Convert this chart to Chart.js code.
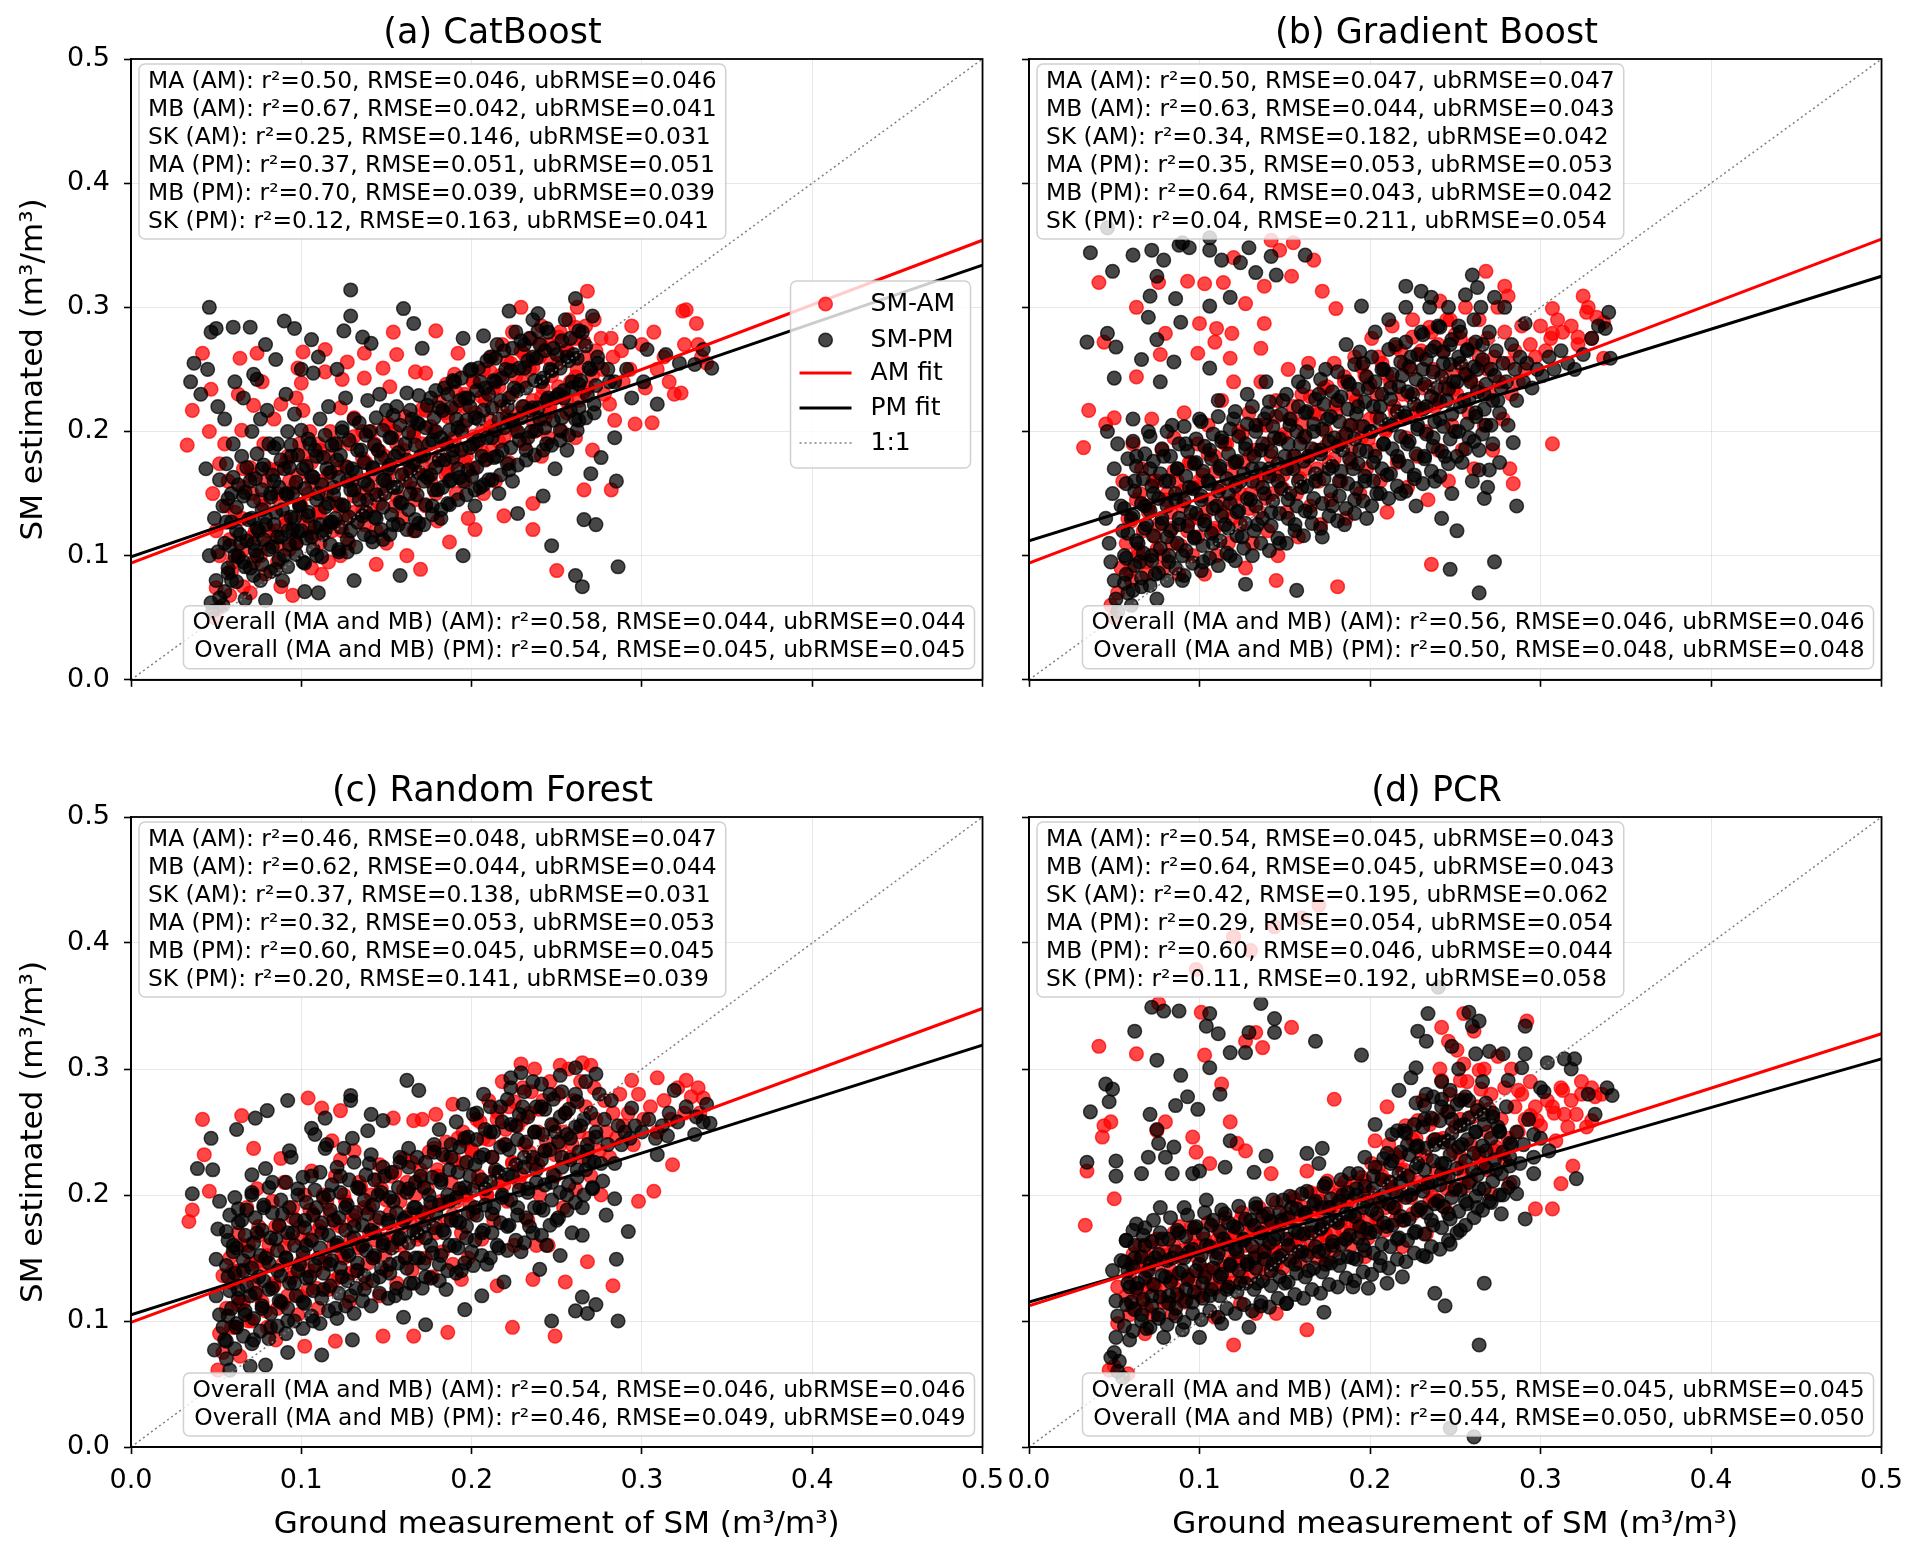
<!DOCTYPE html>
<html>
<head>
<meta charset="utf-8">
<title>SM estimated vs ground measurement</title>
<script src="https://cdn.jsdelivr.net/npm/chart.js@4.4.1/dist/chart.umd.min.js"></script>
<style>
  html, body { margin: 0; padding: 0; background: #fff; }
  #fig { position: relative; width: 1923px; height: 1559px; overflow: hidden; }
  #fig canvas { position: absolute; }
</style>
</head>
<body>
<div id="fig">
  <canvas id="pa" width="1015" height="710" style="left:0px;top:0px"></canvas>
  <canvas id="pb" width="925" height="710" style="left:989px;top:0px"></canvas>
  <canvas id="pc" width="1015" height="801" style="left:0px;top:758px"></canvas>
  <canvas id="pd" width="925" height="801" style="left:989px;top:758px"></canvas>
</div>
<script>
const FONT = '"DejaVu Sans", sans-serif';

// axis ticks and common lines
const tickLabels = ['0.0', '0.1', '0.2', '0.3', '0.4', '0.5'];
const fitX = [0, 0.5];
const oneToOne = [0, 0.5];
const legendLabels = ['SM-AM', 'SM-PM', 'AM fit', 'PM fit', '1:1'];

// scatter points, pairs of (ground, estimated) in thousandths of m3/m3
// (a) CatBoost
const catAM = [
  33,189, 36,217, 42,263, 47,234, 46,200, 48,150, 50,120, 52,100, 50,74, 52,58, 49,50,
  52,174, 55,190, 57,160, 58,113, 59,87, 58,68, 56,140,
  64,259, 65,201, 63,230, 66,170, 65,130, 63,100, 66,75,
  70,171, 72,221, 74,263, 71,150, 73,120, 72,95, 70,70,
  77,240, 78,190, 79,160, 78,140, 80,110, 79,85,
  84,210, 88,222, 86,170, 87,145, 85,120, 86,95, 88,75,
  92,180, 93,160, 91,130, 93,105,
  97,227, 98,251, 101,264, 100,239, 101,217, 99,190, 98,165, 100,140, 97,110, 95,68,
  105,200, 106,175, 104,150, 105,125, 106,90,
  110,190, 112,160, 110,135, 111,110, 112,85,
  114,266, 114,248, 117,200, 116,180, 115,150, 118,120, 116,95,
  123,219, 124,242, 127,256, 123,100, 121,170, 122,140, 124,120,
  131,211, 129,190, 130,160, 131,135, 128,110,
  137,263, 137,243, 136,200, 138,175, 136,150, 137,125,
  144,93, 143,190, 142,165, 141,140, 144,120,
  148,251, 150,205, 149,180, 147,150, 150,110,
  152,236, 154,280, 156,262, 155,200, 153,170, 155,140,
  160,185, 161,160, 159,130, 162,100,
  167,248, 166,200, 165,170, 167,145, 166,120,
  170,89, 173,247, 173,217, 171,190, 172,165, 173,140,
  179,281, 178,200, 177,175, 179,150, 180,128,
  185,238, 184,215, 186,190, 185,165, 187,111,
  190,246, 192,263, 191,220, 190,195, 189,175, 191,150,
  196,230, 195,205, 197,180, 196,160, 198,130,
  202,121, 201,240, 202,215, 203,190, 201,170,
  207,250, 208,225, 206,200, 209,178, 207,150,
  212,260, 213,235, 211,210, 212,185, 214,160,
  219,132, 218,270, 217,245, 218,220, 219,195,
  224,280, 223,255, 224,230, 225,205, 222,175,
  229,300, 229,265, 230,240, 228,215, 231,190,
  236,142, 236,121, 235,275, 234,250, 236,225, 237,200,
  241,285, 240,260, 242,235, 243,210, 241,180,
  246,270, 247,245, 246,220, 245,195,
  250,88, 252,280, 251,255, 252,230, 253,200,
  257,290, 256,265, 258,240, 256,215,
  262,300, 261,275, 262,250, 263,225, 261,195,
  266,153, 268,313, 267,285, 266,260, 268,235,
  271,185, 272,290, 273,265, 271,245,
  276,275, 277,250, 278,230,
  281,222, 282,153, 283,260, 284,209, 282,275,
  288,265, 289,240,
  294,285, 296,206, 293,250,
  300,270, 302,235,
  306,207, 307,280, 309,250,
  313,260, 316,240, 319,230,
  323,231, 324,297, 326,298, 325,270,
  332,287, 333,270, 335,260, 338,255
];
const catAMCore = [
  60,95, 61,135, 66,105, 66,155, 71,115, 71,165, 76,100, 76,145, 81,120, 81,170, 86,108, 86,150,
  91,125, 91,175, 96,112, 96,155, 101,130, 101,180, 106,118, 106,160, 111,135, 111,185, 116,124,
  116,166, 121,142, 121,190, 126,130, 126,172, 131,148, 131,196, 136,136, 136,178, 141,154, 141,200,
  146,142, 146,184, 151,160, 151,206, 156,148, 156,190, 161,166, 161,212, 166,154, 166,196, 171,172,
  171,218, 176,160, 176,204, 181,180, 181,224, 186,168, 186,212, 191,188, 191,232, 196,176, 196,220,
  201,196, 201,240, 206,184, 206,228, 211,204, 211,248, 216,192, 216,236, 221,212, 221,256, 226,200,
  226,244, 231,220, 231,262, 236,208, 236,252, 241,228, 241,270, 246,216, 246,258, 251,236, 251,276,
  256,224, 256,266, 261,244, 261,284, 266,232, 266,272
];
const catPM = [
  35,240, 37,255, 41,230, 46,300, 47,280, 45,250, 44,170, 46,100, 47,62,
  50,283, 51,220, 52,161, 49,130, 51,103, 50,80, 52,66, 48,55,
  55,210, 56,174, 54,140, 56,127, 55,110, 57,90, 55,71, 54,60,
  60,284, 61,240, 60,190, 59,150, 62,120, 61,100, 59,80,
  66,227, 65,180, 66,148, 64,110, 66,95, 67,65,
  70,284, 72,246, 71,200, 70,160, 71,130, 72,110, 70,90,
  74,242, 76,210, 77,170, 77,137, 75,120, 74,100, 76,80,
  79,270, 80,217, 81,190, 82,150, 79,125, 81,105, 79,64,
  85,258, 86,190, 84,160, 85,135, 86,115, 85,89,
  90,289, 91,230, 92,200, 90,170, 91,150, 92,120, 90,100, 89,80,
  96,283, 96,214, 94,180, 95,150, 96,130, 95,121, 97,110,
  100,250, 100,201, 101,170, 99,140, 100,120, 101,95, 102,71,
  106,274, 107,247, 105,190, 106,164, 104,135, 106,115,
  110,260, 111,210, 109,180, 110,150, 111,125, 109,100, 110,70,
  116,220, 115,170, 116,142, 114,120, 117,127,
  121,250, 120,190, 121,177, 119,155, 120,130, 122,105,
  125,281, 126,227, 124,200, 127,160, 125,140, 127,103,
  129,314, 129,293, 131,210, 130,170, 131,153, 129,120, 131,80,
  136,276, 139,225, 135,185, 137,160, 136,132,
  141,271, 140,200, 142,170, 139,145, 141,115,
  146,230, 145,185, 148,161, 144,130,
  150,217, 152,195, 151,170, 149,150, 148,113,
  156,220, 155,180, 156,155, 154,125,
  160,299, 162,231, 161,190, 164,169, 159,142, 158,84,
  166,287, 165,210, 166,175, 164,150, 167,120,
  171,267, 169,206, 170,180, 172,160, 169,126,
  176,227, 175,190, 176,165, 177,140,
  181,219, 179,200, 181,177, 180,153, 182,130,
  186,230, 185,190, 187,160, 186,142,
  190,240, 191,210, 189,185, 192,170,
  195,275, 196,227, 194,200, 195,160, 195,100,
  200,250, 199,220, 201,190, 200,164, 202,140,
  207,277, 205,240, 204,210, 206,180, 205,155,
  211,260, 210,230, 212,195, 210,161,
  215,270, 214,240, 216,210, 215,180, 216,150,
  222,297, 220,250, 221,220, 222,209, 221,174,
  226,280, 225,235, 227,200, 224,160, 227,134,
  231,270, 231,251, 230,220, 232,185,
  236,290, 236,260, 236,219, 235,200,
  239,295, 240,270, 241,240, 240,210, 242,148,
  245,280, 246,250, 245,227, 244,190, 247,108,
  250,262, 251,230, 252,201, 249,170,
  255,290, 256,260, 254,227, 256,185,
  261,307, 260,262, 259,240, 261,210, 261,84,
  265,280, 263,238, 263,209, 266,129, 265,75,
  271,293, 270,250, 272,222, 270,166,
  274,260, 276,179, 273,125,
  280,250, 281,240,
  284,240, 284,195, 285,160, 286,91,
  293,272, 291,250, 294,227,
  303,266, 301,240,
  314,262, 309,222,
  322,255,
  331,254, 336,266,
  341,251
];
const catPMCore = [
  57,86, 58,108, 59,127, 57,146, 60,163, 62,79, 63,99, 64,117, 62,139, 63,157,
  67,91, 68,112, 69,129, 67,151, 68,171, 72,84, 73,104, 74,122, 72,144, 73,162, 74,182,
  77,93, 78,113, 79,131, 77,153, 78,173, 82,87, 83,107, 84,125, 82,147, 83,165, 84,187,
  87,97, 88,115, 89,137, 87,155, 88,177, 92,91, 93,109, 94,131, 92,149, 93,171, 94,189,
  97,101, 98,119, 99,141, 97,159, 98,181, 102,94, 103,114, 104,132, 102,154, 103,172, 104,194,
  107,105, 108,123, 109,145, 107,163, 108,185, 112,99, 113,117, 114,139, 112,157, 113,179, 114,197,
  117,109, 118,127, 119,149, 117,167, 118,189, 122,103, 123,123, 124,141, 122,163, 123,181, 124,203,
  127,113, 128,131, 129,153, 127,171, 128,193, 132,107, 133,127, 134,145, 132,167, 133,185, 134,207,
  137,117, 138,135, 139,157, 137,175, 138,197, 142,111, 143,131, 144,149, 142,171, 143,189, 144,211,
  147,121, 148,139, 149,161, 147,179, 148,201, 152,117, 153,133, 154,155, 152,173, 153,195, 154,213,
  157,125, 158,143, 159,165, 157,183, 158,205, 162,121, 163,137, 164,159, 162,177, 163,199, 164,217,
  167,129, 168,149, 169,167, 167,189, 168,207, 169,229, 172,125, 173,141, 174,163, 172,181, 173,203, 174,221,
  177,133, 178,153, 179,171, 177,193, 178,211, 179,233, 182,137, 183,155, 184,177, 182,195, 183,217, 184,235,
  187,141, 188,161, 189,179, 187,201, 188,219, 189,241, 192,145, 193,163, 194,185, 192,203, 193,225, 194,243,
  197,149, 198,169, 199,187, 197,209, 198,227, 199,249, 202,153, 203,171, 204,193, 202,211, 203,233, 204,251,
  207,157, 208,177, 209,195, 207,217, 208,235, 209,257, 212,161, 213,179, 214,201, 212,219, 213,241, 214,259,
  217,165, 218,185, 219,203, 217,225, 218,243, 219,265, 222,169, 223,187, 224,209, 222,227, 223,249, 224,267,
  227,173, 228,193, 229,211, 227,233, 228,251, 229,273, 232,177, 233,195, 234,217, 232,235, 233,257, 234,275,
  237,181, 238,201, 239,219, 237,241, 238,259, 239,281, 242,185, 243,203, 244,225, 242,243, 243,265, 244,283,
  247,189, 248,209, 249,227, 247,249, 248,267, 252,193, 253,211, 254,233, 252,251, 253,273,
  257,197, 258,217, 259,235, 257,257, 258,275, 262,201, 263,219, 264,241, 262,259, 263,281,
  267,211, 268,229, 269,251, 267,269, 272,215, 273,237, 274,255
];
const catFitAM = [0.094, 0.354];
const catFitPM = [0.099, 0.334];

// (b) Gradient Boost
const gbAM = [
  41,320, 63,300, 76,320, 93,321, 103,319, 114,320, 120,340, 142,354, 147,346, 155,352,
  167,338, 154,325, 138,317, 127,303, 172,313, 180,299, 100,287, 110,283, 119,279, 109,272,
  99,263, 118,259, 136,267, 138,287, 80,279, 77,262, 63,244, 35,217, 45,206, 50,211, 32,187, 44,272,
  325,309, 307,299, 327,296, 337,288, 337,259, 307,279, 307,190, 268,329, 279,317, 281,309, 322,276, 330,275,
  282,170, 284,158, 236,93, 181,75, 145,80,
  48,60, 50,50, 52,70, 54,90, 55,160, 57,110, 58,130, 60,80, 61,190, 63,145, 64,100, 66,170,
  67,120, 69,85, 70,140, 72,210, 73,160, 75,105, 76,125, 78,185, 79,90, 81,150, 83,135, 84,110,
  85,195, 87,160, 88,85, 90,140, 91,215, 93,120, 94,175, 96,100, 97,155, 99,190, 100,130, 102,165,
  103,85, 105,205, 106,145, 108,120, 109,180, 110,100, 112,155, 113,225, 114,135, 116,190, 117,110,
  119,165, 120,240, 121,145, 123,200, 124,125, 126,175, 127,90, 129,215, 130,150, 131,110, 133,185,
  135,135, 136,240, 137,165, 139,205, 140,120, 142,180, 143,150, 145,225, 146,100, 148,195, 149,165,
  151,135, 152,250, 154,210, 155,180, 157,150, 158,115, 160,230, 161,195, 162,170, 164,255, 165,140,
  167,215, 168,185, 170,160, 171,125, 173,235, 174,200, 176,175, 177,145, 179,255, 180,215, 182,190,
  183,160, 185,240, 186,130, 188,205, 189,175, 191,260, 192,225, 194,150, 195,195, 197,245, 198,170,
  200,210, 201,275, 203,185, 204,230, 206,160, 207,255, 209,200, 210,135, 212,240, 213,285, 215,215,
  216,175, 218,265, 219,230, 221,195, 222,155, 224,250, 225,290, 227,215, 228,180, 230,265, 231,235,
  233,200, 234,145, 236,280, 237,250, 238,220, 240,185, 241,305, 243,265, 244,235, 246,160, 247,290,
  248,205, 250,250, 251,230, 253,275, 254,185, 256,300, 257,245, 258,215, 260,270, 261,170, 263,235,
  264,290, 266,255, 267,205, 269,275, 270,230, 272,185, 273,260, 275,300, 276,240, 278,210, 279,280,
  281,255, 283,230, 285,265, 287,240, 289,285, 291,250, 294,270, 297,260, 300,285, 303,265, 306,275,
  310,290, 313,280, 318,285, 322,270, 328,300, 333,292
];
const gbAMCore = [
  59,88, 60,128, 64,105, 65,150, 69,95, 70,135, 74,115, 75,160, 79,100, 80,145, 84,122, 85,168,
  89,108, 90,152, 94,128, 95,175, 99,115, 100,160, 104,135, 105,182, 109,122, 110,168, 114,142, 115,190,
  119,130, 120,175, 124,150, 125,198, 129,138, 130,182, 134,158, 135,205, 139,146, 140,190, 144,165,
  145,212, 149,154, 150,198, 154,172, 155,220, 159,162, 160,206, 164,180, 165,228, 169,170, 170,214,
  174,188, 175,236, 179,178, 180,222, 184,196, 185,244, 189,186, 190,230, 194,204, 195,252, 199,194,
  200,238, 204,212, 205,260, 209,202, 210,246, 214,220, 215,268, 219,210, 220,254, 224,228, 225,276,
  229,218, 230,262, 234,236, 235,284, 239,226, 240,270, 244,244, 245,290, 249,234, 250,278, 254,252,
  259,242, 264,260, 269,250
];
const gbPM = [
  36,344, 49,329, 61,342, 72,346, 79,338, 88,350, 94,348, 106,356, 106,346, 113,338, 124,336,
  129,348, 133,328, 142,341, 145,326, 162,342, 75,325, 71,309, 86,307, 106,301, 118,308, 70,292,
  89,288, 46,279, 51,268, 34,272, 75,274, 66,258, 85,256, 106,251, 50,243, 77,240, 195,301, 194,264,
  163,248, 46,364, 90,352,
  260,326, 263,316, 273,308, 221,317, 230,313, 236,308, 291,287, 340,296, 341,259,
  284,191, 264,169, 270,169, 267,146, 286,140, 273,95, 264,70, 247,89, 157,72, 127,77,
  45,130, 47,110, 48,95, 50,80, 51,65, 52,55, 49,150, 50,170, 52,190, 46,200, 54,140, 55,120,
  56,100, 57,85, 58,70, 60,60, 60,130, 62,160, 63,180, 61,210, 64,110, 65,95, 66,75, 68,140,
  69,125, 70,200, 71,170, 73,150, 72,100, 74,85, 75,65, 78,130, 79,180, 80,160, 81,115, 82,95,
  84,205, 86,145, 87,170, 88,125, 90,100, 90,80, 92,190, 94,155, 95,135, 97,115, 98,175, 100,210,
  101,145, 102,95, 103,125, 105,160, 106,185, 108,110, 110,140, 111,225, 112,170, 113,195, 115,125,
  117,150, 118,100, 120,210, 121,175, 122,135, 124,160, 125,115, 127,190, 128,230, 130,145, 131,170,
  133,205, 134,125, 136,185, 137,155, 139,240, 140,215, 141,170, 142,135, 144,195, 146,160, 147,110,
  149,225, 150,180, 152,145, 153,205, 155,170, 156,125, 158,240, 159,190, 160,155, 162,215, 164,180,
  165,135, 167,200, 168,160, 170,230, 171,185, 172,115, 174,250, 175,210, 176,170, 178,140, 179,195,
  181,225, 182,160, 184,185, 185,125, 186,270, 187,240, 189,205, 190,170, 191,145, 193,220, 194,185,
  196,255, 197,160, 198,130, 199,235, 200,200, 202,175, 203,280, 204,150, 206,220, 207,250, 208,190,
  210,165, 211,290, 212,235, 213,205, 215,270, 216,180, 218,150, 219,245, 220,215, 221,300, 222,190,
  224,260, 225,230, 226,165, 227,140, 228,205, 230,280, 231,250, 232,180, 233,220, 235,300, 236,265,
  237,195, 238,160, 239,235, 240,285, 241,210, 242,130, 243,255, 244,180, 245,225, 246,300, 247,270,
  248,150, 249,240, 250,200, 251,120, 252,285, 253,255, 254,175, 255,225, 256,310, 257,265, 258,195,
  259,240, 260,160, 261,290, 262,215, 263,250, 264,185, 265,300, 266,270, 267,230, 268,205, 269,155,
  270,280, 271,250, 272,190, 274,265, 275,225, 276,175, 278,255, 279,300, 280,240, 281,205, 283,270,
  285,250, 286,225, 288,260, 290,240, 292,255, 295,235, 298,250, 301,245, 305,260, 308,250, 312,265,
  316,255, 320,250, 325,262, 330,275, 334,285, 338,283
];
const gbPMCore = [
  56,78, 57,98, 58,118, 56,138, 57,158, 58,178, 61,72, 62,92, 63,112, 61,132, 62,152, 63,172, 61,192,
  66,82, 67,102, 68,122, 66,142, 67,162, 68,182, 71,76, 72,96, 73,116, 71,136, 72,156, 73,176, 71,196,
  76,86, 77,106, 78,126, 76,146, 77,166, 78,186, 81,80, 82,100, 83,120, 81,140, 82,160, 83,180, 81,200,
  86,90, 87,110, 88,130, 86,150, 87,170, 88,190, 91,84, 92,104, 93,124, 91,144, 92,164, 93,184, 91,204,
  96,94, 97,114, 98,134, 96,154, 97,174, 98,194, 101,88, 102,108, 103,128, 101,148, 102,168, 103,188, 101,208,
  106,98, 107,118, 108,138, 106,158, 107,178, 108,198, 111,92, 112,112, 113,132, 111,152, 112,172, 113,192, 111,212,
  116,102, 117,122, 118,142, 116,162, 117,182, 118,202, 121,96, 122,116, 123,136, 121,156, 122,176, 123,196, 121,216,
  126,106, 127,126, 128,146, 126,166, 127,186, 128,206, 131,100, 132,120, 133,140, 131,160, 132,180, 133,200, 131,220,
  136,110, 137,130, 138,150, 136,170, 137,190, 138,210, 141,104, 142,124, 143,144, 141,164, 142,184, 143,204, 141,224,
  146,114, 147,134, 148,154, 146,174, 147,194, 148,214, 151,110, 152,130, 153,150, 151,170, 152,190, 153,210, 151,230,
  156,120, 157,140, 158,160, 156,180, 157,200, 158,220, 161,116, 162,136, 163,156, 161,176, 162,196, 163,216, 161,236,
  166,126, 167,146, 168,166, 166,186, 167,206, 168,226, 171,122, 172,142, 173,162, 171,182, 172,202, 173,222, 171,242,
  176,132, 177,152, 178,172, 176,192, 177,212, 178,232, 181,128, 182,148, 183,168, 181,188, 182,208, 183,228, 181,248,
  186,138, 187,158, 188,178, 186,198, 187,218, 188,238, 191,134, 192,154, 193,174, 191,194, 192,214, 193,234, 191,254,
  196,144, 197,164, 198,184, 196,204, 197,224, 198,244, 201,140, 202,160, 203,180, 201,200, 202,220, 203,240, 201,260,
  206,150, 207,170, 208,190, 206,210, 207,230, 208,250, 211,146, 212,166, 213,186, 211,206, 212,226, 213,246, 211,266,
  216,156, 217,176, 218,196, 216,216, 217,236, 218,256, 221,152, 222,172, 223,192, 221,212, 222,232, 223,252, 221,272,
  226,162, 227,182, 228,202, 226,222, 227,242, 228,262, 231,158, 232,178, 233,198, 231,218, 232,238, 233,258, 231,278,
  236,168, 237,188, 238,208, 236,228, 237,248, 238,268, 241,164, 242,184, 243,204, 241,224, 242,244, 243,264, 241,284,
  246,174, 247,194, 248,214, 246,234, 247,254, 248,274, 251,180, 252,200, 253,220, 251,240, 252,260, 253,280,
  256,186, 257,206, 258,226, 256,246, 257,266, 261,192, 262,212, 263,232, 261,252, 262,272,
  266,198, 267,218, 268,238, 266,258, 271,205, 272,225, 273,245, 276,215, 277,235
];
const gbFitAM = [0.094, 0.355];
const gbFitPM = [0.112, 0.325];

// (c) Random Forest
const rfAM = [
  42,260, 65,263, 104,277, 112,269, 123,267, 154,261, 166,259, 171,260, 179,264, 189,272, 229,304,
  252,303, 265,305, 270,303, 294,291, 309,293, 326,291, 333,285, 336,277, 318,224, 307,203, 298,195,
  268,147, 283,128, 224,95, 249,88, 43,232, 46,203, 36,188, 34,179, 72,237, 88,229, 106,219, 123,228,
  118,243, 131,235, 146,224, 160,229, 178,237, 196,243, 186,91, 166,88, 148,88, 120,84, 102,80, 85,85,
  64,72, 51,61, 54,136, 63,113, 74,147, 194,133, 215,128, 236,133, 255,131, 238,160,
  52,90, 54,75, 56,110, 58,150, 60,130, 61,95, 63,170, 64,140, 66,115, 68,190, 69,160, 71,100,
  72,130, 74,205, 75,175, 77,115, 78,145, 80,95, 81,160, 83,195, 84,130, 86,110, 87,175, 89,145,
  90,210, 92,120, 93,165, 95,190, 96,140, 98,105, 99,175, 101,150, 102,200, 104,125, 105,165, 107,185,
  108,140, 110,110, 111,175, 113,200, 114,150, 116,125, 117,185, 119,160, 120,215, 122,135, 123,175,
  125,150, 126,195, 128,115, 129,165, 131,180, 132,140, 134,210, 135,160, 137,190, 138,130, 140,170,
  141,200, 143,150, 144,180, 146,120, 147,205, 149,165, 150,140, 152,185, 153,215, 155,160, 156,130,
  158,195, 159,175, 161,150, 162,210, 164,185, 165,140, 167,200, 168,165, 170,220, 171,180, 173,150,
  174,205, 176,190, 177,135, 179,170, 180,215, 182,195, 183,155, 185,230, 186,180, 188,210, 189,145,
  191,195, 192,245, 194,170, 195,225, 197,200, 198,150, 200,235, 201,185, 203,260, 204,215, 206,165,
  207,245, 209,200, 210,275, 212,230, 213,180, 215,260, 216,210, 218,290, 219,240, 221,195, 222,270,
  224,225, 225,160, 227,255, 228,210, 230,285, 231,240, 233,180, 234,265, 236,225, 237,300, 239,250,
  240,200, 242,275, 243,235, 245,160, 246,290, 248,255, 249,215, 251,280, 252,240, 254,190, 255,265,
  257,300, 258,230, 260,275, 261,205, 263,250, 264,290, 266,230, 267,270, 269,245, 270,215, 272,285,
  273,260, 275,235, 276,200, 278,275, 279,250, 281,230, 283,265, 285,245, 287,280, 289,255, 292,265,
  295,240, 298,280, 301,260, 305,270, 309,250, 313,275, 317,260, 321,285, 325,265, 329,278, 334,265
];
const rfAMCore = [
  59,95, 60,140, 64,115, 65,160, 69,100, 70,145, 74,122, 75,168, 79,108, 80,152, 84,128, 85,175,
  89,114, 90,158, 94,134, 95,182, 99,120, 100,165, 104,140, 105,188, 109,126, 110,172, 114,146, 115,194,
  119,132, 120,178, 124,152, 125,200, 129,138, 130,184, 134,158, 135,206, 139,146, 140,190, 144,164,
  145,212, 149,152, 150,196, 154,170, 155,218, 159,160, 160,204, 164,178, 165,226, 169,168, 170,212,
  174,186, 175,234, 179,176, 180,220, 184,194, 185,242, 189,184, 190,228, 194,202, 195,250, 199,192,
  200,236, 204,210, 205,258, 209,200, 210,244, 214,218, 215,266, 219,208, 220,252, 224,226, 225,274,
  229,216, 230,260, 234,234, 235,282, 239,224, 240,268, 244,242, 249,232, 254,250, 259,240
];
const rfPM = [
  162,291, 169,283, 207,280, 223,293, 229,297, 261,301, 273,296, 319,283, 338,272, 340,257, 331,248,
  315,247, 309,232, 294,269, 292,171, 285,149, 265,119, 261,108, 273,113, 268,106, 247,100, 286,100,
  195,272, 129,279, 129,275, 92,275, 80,267, 73,261, 62,252, 47,245, 39,221, 48,220, 36,201, 52,195,
  63,189, 71,216, 79,221, 93,235, 108,248, 114,237, 125,237, 139,251, 163,237, 141,264, 148,259,
  114,261, 106,253, 51,173, 56,171, 50,149, 60,155, 54,95, 49,77, 58,61, 70,64, 79,65, 92,75, 112,73,
  130,85, 160,103, 173,97, 196,109, 206,120, 219,131, 240,141, 252,152, 265,168, 279,184, 284,197,
  277,211, 269,227,
  50,120, 52,105, 55,85, 56,70, 57,135, 59,110, 60,160, 62,95, 63,125, 65,180, 66,140, 67,105,
  69,155, 70,120, 71,200, 72,85, 74,170, 75,135, 77,110, 78,190, 79,150, 81,125, 82,95, 83,210,
  85,165, 86,140, 88,115, 89,185, 91,150, 92,100, 94,230, 95,170, 96,130, 98,205, 99,145, 101,115,
  102,180, 103,160, 105,135, 106,215, 107,100, 109,190, 110,150, 112,170, 113,125, 115,240, 116,200,
  117,145, 119,180, 120,110, 121,160, 123,215, 124,135, 126,190, 127,155, 129,120, 130,245, 131,175,
  133,140, 134,205, 136,160, 137,125, 139,185, 140,225, 142,150, 143,170, 145,200, 146,135, 148,160,
  149,215, 151,180, 152,145, 154,195, 155,120, 157,165, 158,230, 160,180, 161,150, 163,205, 164,130,
  166,170, 167,190, 169,150, 170,215, 172,175, 173,135, 175,200, 176,160, 178,240, 179,185, 181,145,
  182,210, 184,170, 185,125, 187,195, 188,230, 190,160, 191,180, 193,205, 194,140, 196,245, 197,175,
  199,215, 200,155, 202,190, 203,265, 205,230, 206,170, 208,205, 209,145, 211,250, 212,185, 214,220,
  215,160, 217,270, 218,200, 220,240, 221,175, 223,285, 224,215, 226,255, 227,190, 229,155, 230,270,
  231,230, 233,205, 234,175, 236,290, 237,250, 238,220, 240,190, 241,270, 243,235, 244,160, 246,280,
  247,210, 249,250, 250,180, 252,295, 253,230, 255,265, 256,200, 258,245, 259,170, 261,280, 262,220,
  264,255, 265,190, 267,290, 268,235, 270,265, 271,205, 273,250, 275,280, 276,225, 278,260, 280,240,
  282,275, 284,225, 286,255, 288,240, 290,250, 293,245, 296,255, 300,250, 304,260, 308,245, 312,255,
  316,265, 321,258, 326,270, 332,262, 336,258
];
const rfPMCore = [
  56,84, 57,104, 58,124, 56,144, 57,164, 58,184, 61,78, 62,98, 63,118, 61,138, 62,158, 63,178, 61,198,
  66,88, 67,108, 68,128, 66,148, 67,168, 68,188, 71,82, 72,102, 73,122, 71,142, 72,162, 73,182, 71,202,
  76,92, 77,112, 78,132, 76,152, 77,172, 78,192, 81,86, 82,106, 83,126, 81,146, 82,166, 83,186, 81,206,
  86,96, 87,116, 88,136, 86,156, 87,176, 88,196, 91,90, 92,110, 93,130, 91,150, 92,170, 93,190, 91,210,
  96,100, 97,120, 98,140, 96,160, 97,180, 98,200, 101,94, 102,114, 103,134, 101,154, 102,174, 103,194, 101,214,
  106,104, 107,124, 108,144, 106,164, 107,184, 108,204, 111,98, 112,118, 113,138, 111,158, 112,178, 113,198, 111,218,
  116,108, 117,128, 118,148, 116,168, 117,188, 118,208, 121,102, 122,122, 123,142, 121,162, 122,182, 123,202, 121,222,
  126,112, 127,132, 128,152, 126,172, 127,192, 128,212, 131,106, 132,126, 133,146, 131,166, 132,186, 133,206, 131,226,
  136,116, 137,136, 138,156, 136,176, 137,196, 138,216, 141,112, 142,132, 143,152, 141,172, 142,192, 143,212, 141,232,
  146,122, 147,142, 148,162, 146,182, 147,202, 148,222, 151,118, 152,138, 153,158, 151,178, 152,198, 153,218,
  156,126, 157,146, 158,166, 156,186, 157,206, 158,226, 161,122, 162,142, 163,162, 161,182, 162,202, 163,222,
  166,130, 167,150, 168,170, 166,190, 167,210, 168,230, 171,126, 172,146, 173,166, 171,186, 172,206, 173,226,
  176,134, 177,154, 178,174, 176,194, 177,214, 178,234, 181,132, 182,152, 183,172, 181,192, 182,212, 183,232, 181,252,
  186,140, 187,160, 188,180, 186,200, 187,220, 188,240, 191,138, 192,158, 193,178, 191,198, 192,218, 193,238, 191,258,
  196,146, 197,166, 198,186, 196,206, 197,226, 198,246, 201,144, 202,164, 203,184, 201,204, 202,224, 203,244, 201,264,
  206,152, 207,172, 208,192, 206,212, 207,232, 208,252, 211,150, 212,170, 213,190, 211,210, 212,230, 213,250, 211,270,
  216,158, 217,178, 218,198, 216,218, 217,238, 218,258, 221,156, 222,176, 223,196, 221,216, 222,236, 223,256, 221,276,
  226,164, 227,184, 228,204, 226,224, 227,244, 228,264, 231,162, 232,182, 233,202, 231,222, 232,242, 233,262, 231,282,
  236,170, 237,190, 238,210, 236,230, 237,250, 238,270, 241,168, 242,188, 243,208, 241,228, 242,248, 243,268, 241,288,
  246,176, 247,196, 248,216, 246,236, 247,256, 248,276, 251,182, 252,202, 253,222, 251,242, 252,262, 253,282,
  256,188, 257,208, 258,228, 256,248, 257,268, 261,194, 262,214, 263,234, 261,254, 262,274,
  266,200, 267,220, 268,240, 266,260, 271,206, 272,226, 273,246
];
const rfFitAM = [0.099, 0.348];
const rfFitPM = [0.105, 0.319];

// (d) PCR
const pcrAM = [
  41,318, 63,312, 76,352, 101,345, 103,311, 113,288, 118,258, 127,322, 133,329, 137,317, 154,333,
  179,276, 44,255, 48,258, 43,246, 75,251, 80,258, 96,246, 98,234, 122,241, 127,235, 106,225, 142,217,
  163,219, 175,211, 34,219, 50,197, 33,176, 255,344, 242,333, 246,322, 292,338, 255,304, 264,299,
  242,291, 253,291, 313,283, 324,280, 332,278, 321,264, 330,259, 287,283, 294,263, 307,270, 314,264,
  298,259, 316,254, 327,254, 309,243, 319,223, 312,209, 297,189, 307,189, 282,209, 278,233, 264,233,
  253,230, 237,243, 228,259, 210,270, 203,243, 219,219, 237,198, 255,206, 271,201, 163,93, 120,81,
  50,64, 47,61, 58,58, 145,106, 133,106, 124,114, 109,103, 84,106, 68,90, 52,98, 52,127, 63,143,
  61,153, 71,159, 88,175, 97,169, 111,172, 124,180, 138,185, 156,196, 169,201, 183,206, 197,211,
  210,211, 215,190, 192,177, 174,169, 156,164, 138,156, 120,148, 102,140, 84,135, 70,127, 174,148,
  197,151, 219,159, 233,169, 244,190,
  98,379, 144,413, 130,394, 160,420, 170,430, 120,405,
  57,120, 59,135, 61,110, 63,125, 65,150, 67,115, 69,140, 71,130, 73,105, 75,145, 77,125, 79,155,
  81,115, 83,140, 85,160, 87,125, 89,150, 91,115, 93,135, 95,160, 97,130, 99,150, 101,120, 103,165,
  105,140, 107,130, 109,155, 111,140, 113,165, 115,130, 117,155, 119,140, 121,170, 123,150, 125,135,
  127,160, 129,145, 131,175, 133,155, 135,140, 137,170, 139,150, 141,180, 143,160, 145,145, 147,175,
  149,155, 151,185, 153,165, 155,150, 157,180, 159,160, 161,190, 163,170, 165,155, 167,185, 169,165,
  171,195, 173,175, 175,160, 177,190, 179,170, 181,200, 183,180, 185,165, 187,195, 189,175, 191,210,
  193,185, 195,170, 197,200, 199,180, 201,225, 203,195, 205,175, 207,215, 209,190, 211,240, 213,205,
  215,180, 217,230, 219,200, 221,255, 223,215, 225,185, 227,245, 229,210, 231,275, 233,230, 235,195,
  237,260, 239,220, 241,300, 243,245, 245,205, 247,280, 249,235, 251,315, 253,260, 255,215, 257,290,
  259,240, 261,330, 263,270, 265,225, 267,300, 269,250, 271,280, 273,235, 275,310, 277,260, 279,285,
  281,245, 283,300, 285,270, 287,250, 289,280, 291,260, 294,290, 297,270, 300,255, 304,275, 308,265,
  312,285, 318,275, 324,290, 330,285, 336,280
];
const pcrAMCore = [
  59,105, 60,145, 64,122, 65,160, 69,110, 70,150, 74,128, 75,165, 79,115, 80,152, 84,132, 85,170,
  89,118, 90,156, 94,136, 95,174, 99,122, 100,160, 104,140, 105,178, 109,126, 110,164, 114,144, 115,182,
  119,130, 120,168, 124,148, 125,186, 129,134, 130,172, 134,152, 135,190, 139,138, 140,176, 144,156,
  145,194, 149,142, 150,180, 154,160, 155,198, 159,146, 160,184, 164,164, 165,202, 169,150, 170,188,
  174,168, 175,206, 179,156, 180,192, 184,172, 185,210, 189,160, 190,196, 194,176, 195,214, 199,166,
  200,202, 204,182, 205,222, 209,172, 210,210, 214,190, 215,232, 219,180, 220,220, 224,198, 225,244,
  229,188, 230,232, 234,206, 235,256, 239,196, 240,244, 244,214, 245,266, 249,204, 250,254, 254,222,
  255,276, 259,212, 260,262, 264,230, 265,284, 269,220, 270,268, 274,238, 279,228
];
const pcrPM = [
  72,349, 79,346, 88,346, 106,344, 136,352, 144,340, 62,330, 75,307, 104,334, 111,328, 118,313,
  127,313, 129,329, 144,329, 168,322, 195,311, 106,301, 89,295, 45,288, 49,284, 47,274, 36,266,
  71,264, 86,271, 93,278, 99,268, 112,280, 75,252, 76,241, 85,238, 70,230, 80,230, 34,226, 51,227,
  51,215, 66,217, 84,217, 96,217, 100,219, 118,243, 139,231, 132,218, 163,233, 172,237, 170,225,
  115,222, 234,344, 258,345, 260,334, 264,338, 291,334, 228,330, 233,322, 248,318, 262,312, 270,314,
  278,312, 291,312, 304,305, 314,308, 320,308, 318,300, 339,285, 342,279, 328,280, 332,264, 321,213,
  296,248, 302,282, 289,301, 281,291, 300,285, 227,301, 217,283, 224,293, 233,280, 242,270, 253,275,
  203,256, 213,248, 220,251, 210,233, 227,238, 246,243, 255,256, 266,264, 275,254, 282,241, 296,217,
  286,201, 291,181, 277,185, 263,190, 253,172, 247,161, 233,151, 238,122, 244,112, 267,130, 264,81,
  219,135, 210,130, 199,126, 190,127, 173,107, 151,114, 136,112, 129,95, 113,98, 100,87, 90,93,
  79,87, 69,94, 59,85, 51,87, 48,71, 52,104, 51,116, 59,127, 54,148, 49,140, 61,172, 57,164, 68,174,
  77,190, 91,190, 104,196, 115,185, 133,190, 149,196, 160,201, 174,209, 188,217, 242,217, 197,230,
  240,365, 261,8, 247,15, 52,60, 50,75, 53,68, 55,55,
  58,140, 60,115, 62,150, 64,130, 66,105, 68,160, 70,140, 72,120, 74,150, 76,105, 78,165, 80,135,
  82,120, 84,150, 86,110, 88,170, 90,140, 92,125, 94,155, 96,115, 98,175, 100,145, 102,130, 104,160,
  106,120, 108,180, 110,150, 112,135, 114,165, 116,125, 118,145, 120,175, 122,155, 124,130, 126,165,
  128,145, 130,180, 132,150, 134,130, 136,170, 138,155, 140,185, 142,140, 144,165, 146,150, 148,180,
  150,130, 152,160, 154,190, 156,145, 158,170, 160,155, 162,185, 164,140, 166,170, 168,195, 170,155,
  172,175, 174,145, 176,190, 178,160, 180,180, 182,150, 184,200, 186,165, 188,185, 190,150, 192,205,
  194,175, 196,160, 198,195, 200,170, 202,215, 204,185, 206,150, 208,200, 210,175, 212,225, 214,190,
  216,165, 218,210, 220,180, 222,240, 224,200, 226,170, 228,225, 230,190, 232,260, 234,210, 236,180,
  238,240, 240,195, 242,290, 244,225, 246,185, 248,260, 250,205, 252,300, 254,240, 256,195, 258,275,
  260,220, 262,250, 264,205, 266,290, 268,235, 270,195, 272,265, 274,220, 276,250, 278,200, 280,270,
  282,230, 284,210, 286,250, 288,225, 290,240, 293,260, 296,230, 300,245, 305,235
];
const pcrPMCore = [
  56,96, 57,113, 58,130, 56,147, 57,164, 61,92, 62,109, 63,126, 61,143, 62,160, 63,177,
  66,100, 67,117, 68,134, 66,151, 67,168, 71,95, 72,112, 73,129, 71,146, 72,163, 73,180,
  76,102, 77,119, 78,136, 76,153, 77,170, 81,97, 82,114, 83,131, 81,148, 82,165, 83,182,
  86,104, 87,121, 88,138, 86,155, 87,172, 91,99, 92,116, 93,133, 91,150, 92,167, 93,184,
  96,106, 97,123, 98,140, 96,157, 97,174, 101,101, 102,118, 103,135, 101,152, 102,169, 103,186,
  106,108, 107,125, 108,142, 106,159, 107,176, 111,103, 112,120, 113,137, 111,154, 112,171, 113,188,
  116,110, 117,127, 118,144, 116,161, 117,178, 121,106, 122,123, 123,140, 121,157, 122,174, 123,191,
  126,113, 127,130, 128,147, 126,164, 127,181, 131,108, 132,125, 133,142, 131,159, 132,176, 133,193,
  136,115, 137,132, 138,149, 136,166, 137,183, 141,111, 142,128, 143,145, 141,162, 142,179, 143,196,
  146,118, 147,135, 148,152, 146,169, 147,186, 151,114, 152,131, 153,148, 151,165, 152,182, 153,199,
  156,121, 157,138, 158,155, 156,172, 157,189, 161,118, 162,135, 163,152, 161,169, 162,186, 163,203,
  166,125, 167,142, 168,159, 166,176, 167,193, 171,122, 172,139, 173,156, 171,173, 172,190, 173,207,
  176,129, 177,146, 178,163, 176,180, 177,197, 181,127, 182,144, 183,161, 181,178, 182,195, 183,212,
  186,134, 187,151, 188,168, 186,185, 187,202, 191,132, 192,149, 193,166, 191,183, 192,200, 193,217,
  196,139, 197,156, 198,173, 196,190, 197,207, 201,137, 202,154, 203,171, 201,188, 202,205, 203,222,
  206,144, 207,161, 208,178, 206,195, 207,212, 208,229, 211,142, 212,159, 213,176, 211,193, 212,210, 213,227,
  216,149, 217,166, 218,183, 216,200, 217,217, 218,234, 216,251, 221,147, 222,164, 223,181, 221,198, 222,215, 223,232, 221,249,
  226,154, 227,171, 228,188, 226,205, 227,222, 228,239, 226,256, 227,273,
  231,152, 232,169, 233,186, 231,203, 232,220, 233,237, 231,254, 232,271,
  236,159, 237,176, 238,193, 236,210, 237,227, 238,244, 236,261, 237,278,
  241,157, 242,174, 243,191, 241,208, 242,225, 243,242, 241,259, 242,276,
  246,164, 247,181, 248,198, 246,215, 247,232, 248,249, 246,266, 247,283,
  251,170, 252,187, 253,204, 251,221, 252,238, 253,255, 251,272,
  256,176, 257,193, 258,210, 256,227, 257,244, 258,261, 256,278,
  261,182, 262,199, 263,216, 261,233, 262,250, 263,267, 266,188, 267,205, 268,222, 266,239, 267,256, 268,273,
  271,194, 272,211, 273,228, 271,245, 272,262, 276,200, 277,217, 278,234, 276,251, 281,206, 282,223, 283,240
];
const pcrFitAM = [0.112, 0.328];
const pcrFitPM = [0.115, 0.308];

// statistics text
const catStats = [
  'MA (AM): r²=0.50, RMSE=0.046, ubRMSE=0.046',
  'MB (AM): r²=0.67, RMSE=0.042, ubRMSE=0.041',
  'SK (AM): r²=0.25, RMSE=0.146, ubRMSE=0.031',
  'MA (PM): r²=0.37, RMSE=0.051, ubRMSE=0.051',
  'MB (PM): r²=0.70, RMSE=0.039, ubRMSE=0.039',
  'SK (PM): r²=0.12, RMSE=0.163, ubRMSE=0.041'
];
const catOverall = [
  'Overall (MA and MB) (AM): r²=0.58, RMSE=0.044, ubRMSE=0.044',
  'Overall (MA and MB) (PM): r²=0.54, RMSE=0.045, ubRMSE=0.045'
];
const gbStats = [
  'MA (AM): r²=0.50, RMSE=0.047, ubRMSE=0.047',
  'MB (AM): r²=0.63, RMSE=0.044, ubRMSE=0.043',
  'SK (AM): r²=0.34, RMSE=0.182, ubRMSE=0.042',
  'MA (PM): r²=0.35, RMSE=0.053, ubRMSE=0.053',
  'MB (PM): r²=0.64, RMSE=0.043, ubRMSE=0.042',
  'SK (PM): r²=0.04, RMSE=0.211, ubRMSE=0.054'
];
const gbOverall = [
  'Overall (MA and MB) (AM): r²=0.56, RMSE=0.046, ubRMSE=0.046',
  'Overall (MA and MB) (PM): r²=0.50, RMSE=0.048, ubRMSE=0.048'
];
const rfStats = [
  'MA (AM): r²=0.46, RMSE=0.048, ubRMSE=0.047',
  'MB (AM): r²=0.62, RMSE=0.044, ubRMSE=0.044',
  'SK (AM): r²=0.37, RMSE=0.138, ubRMSE=0.031',
  'MA (PM): r²=0.32, RMSE=0.053, ubRMSE=0.053',
  'MB (PM): r²=0.60, RMSE=0.045, ubRMSE=0.045',
  'SK (PM): r²=0.20, RMSE=0.141, ubRMSE=0.039'
];
const rfOverall = [
  'Overall (MA and MB) (AM): r²=0.54, RMSE=0.046, ubRMSE=0.046',
  'Overall (MA and MB) (PM): r²=0.46, RMSE=0.049, ubRMSE=0.049'
];
const pcrStats = [
  'MA (AM): r²=0.54, RMSE=0.045, ubRMSE=0.043',
  'MB (AM): r²=0.64, RMSE=0.045, ubRMSE=0.043',
  'SK (AM): r²=0.42, RMSE=0.195, ubRMSE=0.062',
  'MA (PM): r²=0.29, RMSE=0.054, ubRMSE=0.054',
  'MB (PM): r²=0.60, RMSE=0.046, ubRMSE=0.044',
  'SK (PM): r²=0.11, RMSE=0.192, ubRMSE=0.058'
];
const pcrOverall = [
  'Overall (MA and MB) (AM): r²=0.55, RMSE=0.045, ubRMSE=0.045',
  'Overall (MA and MB) (PM): r²=0.44, RMSE=0.050, ubRMSE=0.050'
];

const RED = 'rgba(255, 0, 0, 0.72)';
const BLACK = 'rgba(0, 0, 0, 0.72)';

function toPoints(flat) {
  const pts = [];
  for (let i = 0; i < flat.length; i += 2) pts.push({ x: flat[i] / 1000, y: flat[i + 1] / 1000 });
  return pts;
}

function lineOf(ys) {
  return fitX.map((x, i) => ({ x: x, y: ys[i] }));
}

function roundBox(ctx, x, y, w, h) {
  const r = 6;
  ctx.beginPath();
  ctx.moveTo(x + r, y);
  ctx.arcTo(x + w, y, x + w, y + h, r);
  ctx.arcTo(x + w, y + h, x, y + h, r);
  ctx.arcTo(x, y + h, x, y, r);
  ctx.arcTo(x, y, x + w, y, r);
  ctx.closePath();
  ctx.fillStyle = 'rgba(255, 255, 255, 0.8)';
  ctx.fill();
  ctx.strokeStyle = 'rgba(204, 204, 204, 0.9)';
  ctx.lineWidth = 1.5;
  ctx.stroke();
}

function drawLegend(ctx, a) {
  const w = 180, h = 187;
  const bx = a.right - 12 - w, by = a.top + 222;
  roundBox(ctx, bx, by, w, h);
  const ys = [23, 59, 92, 127, 162];
  ctx.font = '25px ' + FONT;
  ctx.textAlign = 'left';
  ctx.textBaseline = 'middle';
  [RED, BLACK].forEach((c, i) => {
    ctx.beginPath();
    ctx.arc(bx + 35, by + ys[i], 6.8, 0, Math.PI * 2);
    ctx.fillStyle = c;
    ctx.fill();
    ctx.strokeStyle = c;
    ctx.lineWidth = 1.5;
    ctx.stroke();
  });
  const lineStyles = [['#ff0000', 3, []], ['#000000', 3, []], ['#808080', 1.5, [2, 3]]];
  lineStyles.forEach((s, i) => {
    ctx.beginPath();
    ctx.moveTo(bx + 9, by + ys[i + 2]);
    ctx.lineTo(bx + 61, by + ys[i + 2]);
    ctx.strokeStyle = s[0];
    ctx.lineWidth = s[1];
    ctx.setLineDash(s[2]);
    ctx.stroke();
  });
  ctx.setLineDash([]);
  ctx.fillStyle = '#000';
  legendLabels.forEach((t, i) => ctx.fillText(t, bx + 80, by + ys[i]));
}

const deco = {
  id: 'deco',
  afterDatasetsDraw(chart, args, o) {
    const ctx = chart.ctx, a = chart.chartArea;
    const lh = 28;
    ctx.save();
    ctx.font = '23.4px ' + FONT;
    ctx.textBaseline = 'middle';

    // per-site statistics, upper left
    let w = Math.max(...o.stats.map(t => ctx.measureText(t).width)) + 18;
    let h = o.stats.length * lh + 7;
    let bx = a.left + 8, by = a.top + 5;
    roundBox(ctx, bx, by, w, h);
    ctx.fillStyle = '#000';
    ctx.textAlign = 'left';
    o.stats.forEach((t, i) => ctx.fillText(t, bx + 9, by + 3.5 + lh / 2 + i * lh));

    // overall statistics, lower right
    w = Math.max(...o.overall.map(t => ctx.measureText(t).width)) + 18;
    h = o.overall.length * lh + 7;
    bx = a.right - 8 - w;
    by = a.bottom - 11 - h;
    roundBox(ctx, bx, by, w, h);
    ctx.fillStyle = '#000';
    ctx.textAlign = 'right';
    o.overall.forEach((t, i) => ctx.fillText(t, bx + w - 9, by + 3.5 + lh / 2 + i * lh));

    if (o.legend) drawLegend(ctx, a);

    // frame
    ctx.strokeStyle = '#000';
    ctx.lineWidth = 1.8;
    ctx.strokeRect(a.left, a.top, a.right - a.left, a.bottom - a.top);
    ctx.restore();
  }
};

function makePanel(p) {
  const axisFont = { family: FONT, size: 27 };
  const titleFont = { family: FONT, size: 31 };
  const grid = { color: 'rgba(0, 0, 0, 0.09)', lineWidth: 1, tickLength: 7, tickColor: '#000', tickWidth: 1.6 };
  return new Chart(document.getElementById(p.id), {
    type: 'scatter',
    plugins: [deco],
    data: {
      datasets: [
        { type: 'line', label: 'AM fit', data: lineOf(p.fitAM), borderColor: '#ff0000', borderWidth: 3,
          pointRadius: 0, order: 0 },
        { type: 'line', label: 'PM fit', data: lineOf(p.fitPM), borderColor: '#000000', borderWidth: 3,
          pointRadius: 0, order: 0 },
        { type: 'line', label: '1:1', data: lineOf(oneToOne), borderColor: '#808080', borderWidth: 1.5,
          borderDash: [2, 3], pointRadius: 0, order: 1 },
        { label: 'SM-PM', data: toPoints(p.pm), backgroundColor: BLACK, borderColor: BLACK,
          borderWidth: 1.5, pointRadius: 6.8, order: 2 },
        { label: 'SM-AM', data: toPoints(p.am), backgroundColor: RED, borderColor: RED,
          borderWidth: 1.5, pointRadius: 6.8, order: 3 }
      ]
    },
    options: {
      responsive: false,
      animation: false,
      events: [],
      layout: { padding: { left: 0, right: 30, top: 0, bottom: 0 } },
      plugins: {
        legend: { display: false },
        tooltip: { enabled: false },
        title: { display: true, text: p.title, color: '#000', font: { family: FONT, size: 35, weight: 'normal' },
                 padding: { top: 13, bottom: 4 } },
        deco: { stats: p.stats, overall: p.overall, legend: p.legend }
      },
      scales: {
        x: {
          type: 'linear', min: 0, max: 0.5,
          ticks: { stepSize: 0.1, autoSkip: false, maxRotation: 0, padding: 11, font: axisFont,
                   color: p.showX ? '#000' : 'rgba(0,0,0,0)', callback: (v, i) => tickLabels[i] },
          grid: grid,
          border: { color: '#000', width: 1.8 },
          title: { display: p.showX, text: 'Ground measurement of SM (m³/m³)', color: '#000', font: titleFont,
                   padding: { top: 0, bottom: 15 } },
          afterFit: s => { s.height = p.B; }
        },
        y: {
          type: 'linear', min: 0, max: 0.5,
          ticks: { stepSize: 0.1, autoSkip: false, padding: 14, font: axisFont,
                   color: p.showY ? '#000' : 'rgba(0,0,0,0)', callback: (v, i) => tickLabels[i] },
          grid: grid,
          border: { color: '#000', width: 1.8 },
          title: { display: p.showY, text: 'SM estimated (m³/m³)', color: '#000', font: titleFont,
                   padding: { top: 15, bottom: 0 } },
          afterFit: s => { s.width = p.L; }
        }
      }
    }
  });
}

const panels = [
  { id: 'pa', title: '(a) CatBoost', am: catAM.concat(catAMCore), pm: catPM.concat(catPMCore),
    fitAM: catFitAM, fitPM: catFitPM, stats: catStats, overall: catOverall,
    L: 131, B: 20, showX: false, showY: true, legend: true },
  { id: 'pb', title: '(b) Gradient Boost', am: gbAM.concat(gbAMCore), pm: gbPM.concat(gbPMCore),
    fitAM: gbFitAM, fitPM: gbFitPM, stats: gbStats, overall: gbOverall,
    L: 40, B: 20, showX: false, showY: false, legend: false },
  { id: 'pc', title: '(c) Random Forest', am: rfAM.concat(rfAMCore), pm: rfPM.concat(rfPMCore),
    fitAM: rfFitAM, fitPM: rfFitPM, stats: rfStats, overall: rfOverall,
    L: 131, B: 112, showX: true, showY: true, legend: false },
  { id: 'pd', title: '(d) PCR', am: pcrAM.concat(pcrAMCore), pm: pcrPM.concat(pcrPMCore),
    fitAM: pcrFitAM, fitPM: pcrFitPM, stats: pcrStats, overall: pcrOverall,
    L: 40, B: 112, showX: true, showY: false, legend: false }
];

panels.forEach(makePanel);
</script>
</body>
</html>
